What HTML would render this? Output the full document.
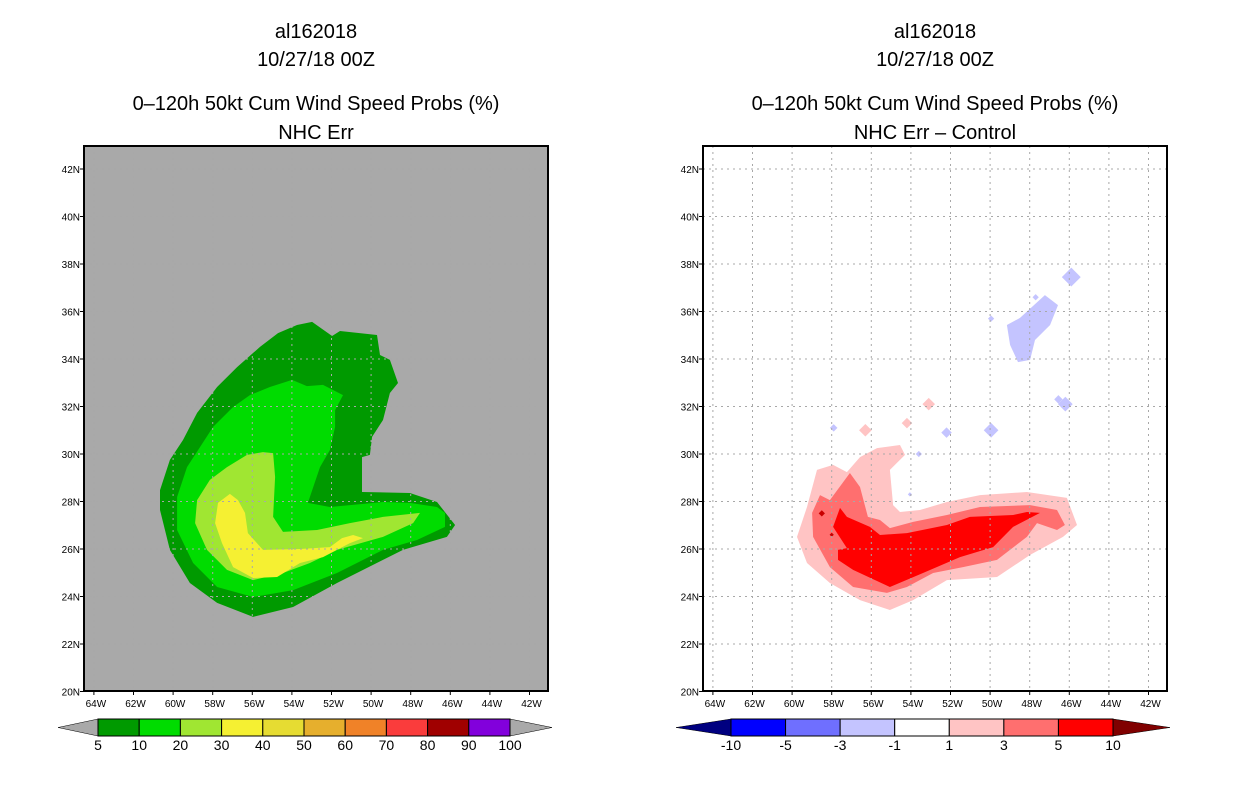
<!DOCTYPE html>
<html><head><meta charset="utf-8"><style>
html,body{margin:0;padding:0;background:#fff;}
svg{display:block;font-family:"Liberation Sans",sans-serif;}
</style></head><body>
<svg id="s" width="1236" height="800"></svg>
<script>
// ---- data (lon, lat in degrees) ----
const lonTicks=[-64,-62,-60,-58,-56,-54,-52,-50,-48,-46,-44,-42];
const latTicks=[20,22,24,26,28,30,32,34,36,38,40,42];
const probLevels=["5","10","20","30","40","50","60","70","80","90","100"];
const probColors=["#009a00","#00dc00","#a0e632","#f5f032","#e6dc32","#e6af2d","#f08228","#fa3c3c","#a00000","#8200dc"];
const diffLevels=["-10","-5","-3","-1","1","3","5","10"];
const diffColors=["#0000ff","#6f6fff","#c4c4ff","#ffffff","#ffc4c4","#ff6f6f","#ff0000"];
const prob5=[[-52.98,35.56],[-51.97,34.97],[-51.57,35.18],[-49.70,35.01],[-49.55,34.17],[-49.05,33.96],[-48.64,32.99],[-49.05,32.57],[-49.40,31.43],[-49.95,30.72],[-50.06,29.96],[-50.46,29.87],[-50.46,28.40],[-48.04,28.36],[-46.67,27.98],[-45.76,27.01],[-46.17,26.51],[-48.39,25.96],[-51.72,24.57],[-53.94,23.56],[-55.96,23.14],[-57.78,23.73],[-59.15,24.57],[-60.16,25.96],[-60.66,27.64],[-60.66,28.48],[-60.16,29.75],[-59.5,30.59],[-58.79,31.73],[-57.78,32.82],[-56.77,33.66],[-55.61,34.51],[-54.70,35.09],[-53.74,35.43]];
const prob10=[[-53.99,33.12],[-53.24,32.86],[-52.43,32.91],[-51.42,32.48],[-51.82,31.85],[-51.82,31.14],[-52.08,30.17],[-52.58,29.45],[-53.19,27.94],[-52.08,27.77],[-49.40,27.98],[-48.04,27.94],[-46.67,27.77],[-46.27,27.52],[-46.27,26.93],[-47.68,26.38],[-49.40,25.96],[-51.72,24.99],[-53.94,24.27],[-55.96,23.98],[-57.78,24.40],[-58.99,25.41],[-59.80,26.80],[-59.80,28.19],[-59.30,29.45],[-58.64,30.29],[-57.98,31.14],[-56.97,31.98],[-56.12,32.48],[-55.11,32.82]];
const prob20=[[-55.46,30.08],[-54.95,30.04],[-54.85,29.03],[-54.95,27.35],[-54.45,26.72],[-52.73,26.80],[-51.07,27.09],[-49.40,27.35],[-47.53,27.52],[-47.88,27.09],[-49.40,26.51],[-51.72,25.96],[-53.09,25.41],[-54.45,24.99],[-55.96,24.69],[-57.28,25.12],[-58.29,25.96],[-58.89,27.09],[-58.79,28.06],[-58.14,28.91],[-57.28,29.45],[-56.27,29.96]];
const prob30=[[-57.13,28.32],[-56.72,28.06],[-56.37,27.52],[-56.22,26.67],[-55.46,25.96],[-53.59,26.0],[-52.08,26.08],[-51.47,26.46],[-50.91,26.59],[-50.41,26.46],[-51.07,26.25],[-52.43,25.66],[-53.59,25.41],[-54.75,24.82],[-55.96,24.78],[-56.97,25.24],[-57.53,26.25],[-57.88,27.09],[-57.73,27.94]];
const diff1=[[-55.71,30.25],[-54.55,30.38],[-54.30,29.96],[-55.06,29.33],[-54.90,27.85],[-54.55,27.56],[-53.54,27.64],[-52.18,27.98],[-50.51,28.27],[-48.14,28.40],[-46.12,28.15],[-45.61,27.01],[-46.32,26.51],[-47.98,25.75],[-49.65,24.82],[-52.18,24.69],[-53.89,23.85],[-55.06,23.43],[-56.57,23.85],[-58.09,24.57],[-59.25,25.41],[-59.75,26.51],[-59.25,27.77],[-58.74,29.33],[-57.93,29.54],[-57.23,29.24],[-56.57,29.87]];
const diff3=[[-57.08,29.20],[-56.57,28.61],[-56.17,27.35],[-55.56,27.22],[-55.06,26.88],[-53.89,27.14],[-52.18,27.43],[-50.51,27.77],[-47.98,27.85],[-46.62,27.64],[-46.22,27.01],[-46.62,26.80],[-47.63,27.09],[-48.14,26.51],[-49.65,25.54],[-51.37,25.24],[-52.88,24.99],[-54.20,24.40],[-55.21,24.15],[-56.92,24.40],[-58.09,25.24],[-58.94,26.51],[-58.99,27.52],[-58.59,28.27],[-58.09,28.06]];
const diff5=[[-57.58,27.73],[-57.23,27.35],[-56.07,26.93],[-55.56,26.59],[-54.20,26.67],[-52.18,27.01],[-51.02,27.35],[-48.84,27.43],[-48.14,27.56],[-47.48,27.52],[-48.84,26.93],[-49.85,26.08],[-51.52,25.66],[-53.39,24.99],[-55.06,24.40],[-56.92,25.12],[-57.68,25.54],[-57.68,25.96],[-57.23,26.04],[-57.93,26.93]];
const diffNeg1=[[-47.23,36.69],[-46.57,36.27],[-46.97,35.43],[-47.73,34.80],[-47.98,33.96],[-48.59,33.87],[-48.99,34.59],[-49.15,35.43],[-48.49,35.73]];
// small blobs: lon, lat, radius(deg)
const negBlobs=[[-45.9,37.45,0.45],[-47.7,36.6,0.15],[-49.95,35.7,0.15],[-46.2,32.1,0.35],[-46.55,32.3,0.2],[-49.95,31.0,0.35],[-52.2,30.9,0.25],[-53.6,30.0,0.15],[-57.9,31.1,0.18],[-54.05,28.3,0.1]];
const posBlobs=[[-53.1,32.1,0.3],[-56.3,31.0,0.3],[-54.2,31.3,0.25]];
const darkBlobs=[[-58.5,27.5,0.15],[-58.0,26.6,0.1]];

const S=document.getElementById('s');
const NS='http://www.w3.org/2000/svg';
function mk(tag,attrs,parent){const e=document.createElementNS(NS,tag);for(const k in attrs)e.setAttribute(k,attrs[k]);(parent||S).appendChild(e);return e;}
const PY0=146,PY1=691,PW=464;
function xs(x0){return lon=>x0+(lon+64.5)*19.8;}
function ys(lat){return 454-(lat-30)*23.75;}
function poly(pts,X,fill,name){const d=pts.map(p=>X(p[0]).toFixed(1)+','+ys(p[1]).toFixed(1)).join(' ');const e=mk('polygon',{points:d,fill:fill});

}
function blobs(arr,X,fill,name){arr.forEach(b=>{const r=b[2]*21;const cx=X(b[0]),cy=ys(b[1]);const e=mk('polygon',{points:`${cx},${cy-r} ${cx+r},${cy} ${cx},${cy+r} ${cx-r},${cy}`,fill:fill});

});}
function text(x,y,t,size,anchor,name){const e=mk('text',{x:x,y:y,'font-size':size,'text-anchor':anchor||'middle',fill:'#000'});e.textContent=t;

return e;}
function panel(x0,bg,titleLines,side){
  const X=xs(x0);
  const bgr=mk('rect',{x:x0,y:PY0,width:PW,height:PY1-PY0,fill:bg});
  
  
  const cx=x0+232;
  const ty=[38,66,110,139];
  titleLines.forEach((t,i)=>text(cx,ty[i],t,20,'middle',side+'-title-line-'+(i+1)));
  return X;
}
function grid(x0,X,side){
  lonTicks.forEach(l=>{const x=X(l);const g=mk('line',{x1:x,y1:PY0,x2:x,y2:PY1,stroke:'#a8a8a8','stroke-dasharray':'2,4','stroke-width':1});
    
    mk('line',{x1:x,y1:PY1,x2:x,y2:PY1+4,stroke:'#000'});
    text(x+2,PY1+16,(-l)+'W',10,'middle',side+'-x-tick-label');});
  latTicks.forEach(l=>{const y=ys(l);const g=mk('line',{x1:x0,y1:y,x2:x0+PW,y2:y,stroke:'#a8a8a8','stroke-dasharray':'2,4','stroke-width':1});
    
    mk('line',{x1:x0-4,y1:y,x2:x0,y2:y,stroke:'#000'});
    text(x0-4,y+4,l+'N',10,'end',side+'-y-tick-label');});
  const f=mk('rect',{x:x0,y:PY0,width:PW,height:PY1-PY0,fill:'none',stroke:'#000','stroke-width':2});
  
}
function colorbar(xa,xb,tl,tr,cols,lcol,rcol,labels,side){
  const n=cols.length,w=(xb-xa)/n,y=719,h=17;
  mk('polygon',{points:`${tl},${y+h/2} ${xa},${y} ${xa},${y+h}`,fill:lcol,stroke:'#000','stroke-width':0.5});
  mk('polygon',{points:`${tr},${y+h/2} ${xb},${y} ${xb},${y+h}`,fill:rcol,stroke:'#000','stroke-width':0.5});
  cols.forEach((c,i)=>{const r=mk('rect',{x:xa+i*w,y:y,width:w,height:h,fill:c,stroke:'#000','stroke-width':1});
    });
  labels.forEach((t,i)=>text(xa+i*w,y+h+14,t,14,'middle',side+'-colorbar-label'));
}
// left panel
const XL=panel(84,'#a9a9a9',['al162018','10/27/18 00Z','0\u2013120h 50kt Cum Wind Speed Probs (%)','NHC Err'],'left');
poly(prob5,XL,probColors[0],'prob-5-contour');
poly(prob10,XL,probColors[1],'prob-10-contour');
poly(prob20,XL,probColors[2],'prob-20-contour');
poly(prob30,XL,probColors[3],'prob-30-contour');
grid(84,XL,'left');
colorbar(98,510,58,552,probColors,'#a9a9a9','#a9a9a9',probLevels,'left');
// right panel
const XR=panel(703,'#ffffff',['al162018','10/27/18 00Z','0\u2013120h 50kt Cum Wind Speed Probs (%)','NHC Err \u2013 Control'],'right');
poly(diff1,XR,diffColors[4],'diff-1-contour');
poly(diff3,XR,diffColors[5],'diff-3-contour');
poly(diff5,XR,diffColors[6],'diff-5-contour');
poly(diffNeg1,XR,diffColors[2],'diff-neg1-contour');
blobs(negBlobs,XR,diffColors[2],'diff-neg-blob');
blobs(posBlobs,XR,diffColors[4],'diff-pos-blob');
blobs(darkBlobs,XR,'#c80000','diff-10-blob');
grid(703,XR,'right');
colorbar(731,1113,676,1170,diffColors,'#000080','#800000',diffLevels,'right');
</script>
</body></html>
